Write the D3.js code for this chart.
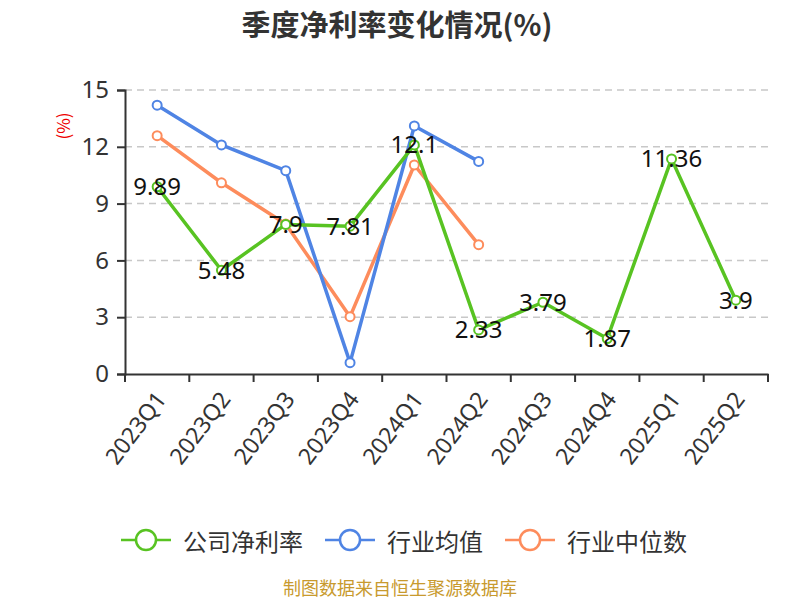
<!DOCTYPE html>
<html>
<head>
<meta charset="utf-8">
<script src="https://cdn.jsdelivr.net/npm/d3@7"></script>
<style>
  body { margin: 0; background: #fff; }
  text { font-family: "Noto Sans CJK SC", "Noto Sans", sans-serif; }
</style>
</head>
<body>
<div id="chart"></div>
<script>
// data
var quarters = ['2023Q1', '2023Q2', '2023Q3', '2023Q4', '2024Q1', '2024Q2', '2024Q3', '2024Q4', '2025Q1', '2025Q2'];
var companyRate = [9.89, 5.48, 7.9, 7.81, 12.1, 2.33, 3.79, 1.87, 11.36, 3.9];
var industryAvg = [14.2, 12.1, 10.74, 0.6, 13.1, 11.23];
var industryMedian = [12.59, 10.1, 7.92, 3.03, 11.04, 6.83];
var yTicks = [0, 3, 6, 9, 12, 15];
var seriesNames = ['公司净利率', '行业均值', '行业中位数'];

var chart_width = 800;
var chart_height = 600;
var colors = ['#58c322', '#4f84e4', '#fd8c5c'];

var svg = d3.select('#chart')
  .append('svg')
  .attr('width', chart_width)
  .attr('height', chart_height);

// title
svg.append('text')
  .attr('x', 397)
  .attr('y', 23)
  .attr('text-anchor', 'middle')
  .attr('dominant-baseline', 'central')
  .attr('font-size', 29)
  .attr('font-weight', 'bold')
  .attr('fill', '#333')
  .text('季度净利率变化情况(%)');

// scales
var x_scale = d3.scaleBand()
  .domain(quarters)
  .range([125, 768]);

var y_scale = d3.scaleLinear()
  .domain([0, 15])
  .range([374, 90]);

// grid lines
svg.append('g')
  .selectAll('line')
  .data(yTicks.filter(function (d) { return d > 0; }))
  .enter()
  .append('line')
  .attr('x1', 125)
  .attr('x2', 768)
  .attr('y1', function (d) { return y_scale(d); })
  .attr('y2', function (d) { return y_scale(d); })
  .attr('stroke', '#c8c8c8')
  .attr('stroke-width', 1.5)
  .attr('stroke-dasharray', '7,5');

// y axis
var y_axis = d3.axisLeft(y_scale)
  .tickValues(yTicks)
  .tickSize(8)
  .tickPadding(8);

var yg = svg.append('g')
  .attr('transform', 'translate(125,0)')
  .call(y_axis);
yg.select('.domain').attr('stroke', '#333').attr('stroke-width', 2);
yg.selectAll('.tick line').attr('stroke', '#333').attr('stroke-width', 2);
yg.selectAll('.tick text')
  .attr('font-size', 24)
  .attr('fill', '#333')
  .style('font-family', '"Noto Sans", sans-serif');

// y axis unit
svg.append('text')
  .attr('transform', 'translate(62,126) rotate(-90)')
  .attr('text-anchor', 'middle')
  .attr('dominant-baseline', 'central')
  .attr('font-size', 17)
  .attr('fill', '#e00')
  .text('(%)');

// x axis
var x_axis = d3.axisBottom(x_scale)
  .tickSize(8)
  .tickSizeOuter(0)
  .tickFormat('');

var xg = svg.append('g')
  .attr('transform', 'translate(0,374)')
  .call(x_axis);
xg.select('.domain').attr('stroke', '#333').attr('stroke-width', 2);
xg.selectAll('.tick').remove();

// boundary ticks between categories
var boundaries = quarters.map(function (q) { return x_scale(q); }).concat([768]);
xg.selectAll('.btick')
  .data(boundaries)
  .enter()
  .append('line')
  .attr('x1', function (d) { return d; })
  .attr('x2', function (d) { return d; })
  .attr('y1', 0)
  .attr('y2', 8)
  .attr('stroke', '#333')
  .attr('stroke-width', 2);

// rotated category labels
xg.selectAll('.qlabel')
  .data(quarters)
  .enter()
  .append('text')
  .attr('transform', function (d) {
    return 'translate(' + (x_scale(d) + x_scale.bandwidth() / 2 + 3) + ',20) rotate(-53)';
  })
  .attr('text-anchor', 'end')
  .attr('dominant-baseline', 'central')
  .attr('font-size', 23)
  .attr('fill', '#333')
  .style('font-family', '"Noto Sans", sans-serif')
  .text(function (d) { return d; });

// lines
var line = d3.line()
  .x(function (d, i) { return x_scale(quarters[i]) + x_scale.bandwidth() / 2; })
  .y(function (d) { return y_scale(d); });

var allSeries = [companyRate, industryAvg, industryMedian];

// draw in order: orange, blue, green on top
[2, 1, 0].forEach(function (k) {
  var data = allSeries[k];
  var g = svg.append('g');
  g.append('path')
    .attr('d', line(data))
    .attr('fill', 'none')
    .attr('stroke', colors[k])
    .attr('stroke-width', 3.5)
    .attr('stroke-linejoin', 'round');
  g.selectAll('circle')
    .data(data)
    .enter()
    .append('circle')
    .attr('cx', function (d, i) { return x_scale(quarters[i]) + x_scale.bandwidth() / 2; })
    .attr('cy', function (d) { return y_scale(d); })
    .attr('r', 4.5)
    .attr('fill', '#fff')
    .attr('stroke', colors[k])
    .attr('stroke-width', 2);
});

// company value labels
svg.append('g')
  .selectAll('text')
  .data(companyRate)
  .enter()
  .append('text')
  .attr('x', function (d, i) { return x_scale(quarters[i]) + x_scale.bandwidth() / 2; })
  .attr('y', function (d) { return y_scale(d) - 1; })
  .attr('text-anchor', 'middle')
  .attr('dominant-baseline', 'central')
  .attr('font-size', 24)
  .attr('fill', '#111')
  .style('font-family', '"Noto Sans", sans-serif')
  .text(function (d) { return d; });

// legend
var legendX = [121, 325, 505];
var legend = svg.selectAll('.legend')
  .data(seriesNames)
  .enter()
  .append('g')
  .attr('class', 'legend')
  .attr('transform', function (d, i) { return 'translate(' + legendX[i] + ',540)'; });

legend.append('line')
  .attr('x1', 0)
  .attr('x2', 50)
  .attr('stroke', function (d, i) { return colors[i]; })
  .attr('stroke-width', 2.5);

legend.append('circle')
  .attr('cx', 25)
  .attr('r', 10)
  .attr('fill', '#fff')
  .attr('stroke', function (d, i) { return colors[i]; })
  .attr('stroke-width', 2.5);

legend.append('text')
  .attr('x', 62)
  .attr('dominant-baseline', 'central')
  .attr('font-size', 24)
  .attr('fill', '#333')
  .text(function (d) { return d; });

// source
svg.append('text')
  .attr('x', 400)
  .attr('y', 587)
  .attr('text-anchor', 'middle')
  .attr('dominant-baseline', 'central')
  .attr('font-size', 18)
  .attr('fill', '#c89a2e')
  .text('制图数据来自恒生聚源数据库');
</script>
</body>
</html>
